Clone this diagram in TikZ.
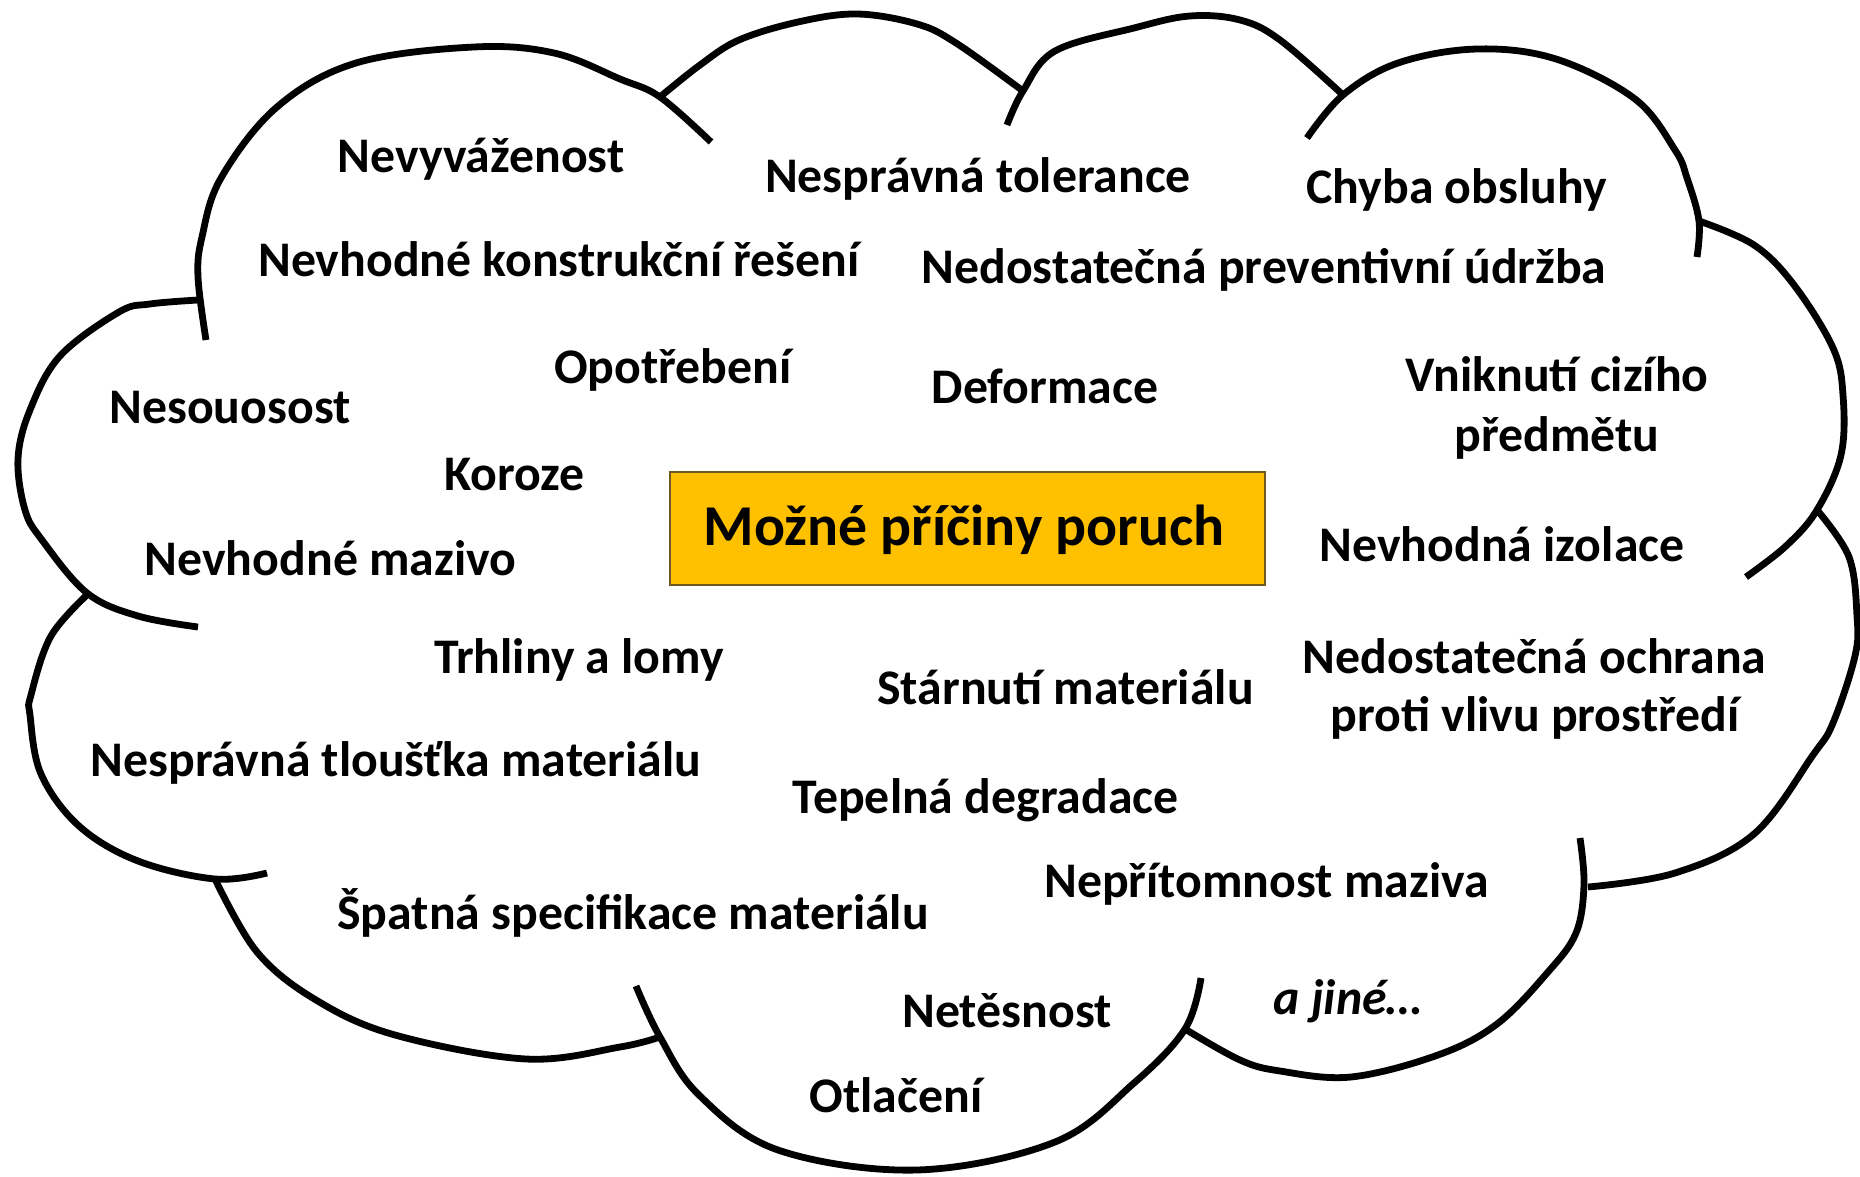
\documentclass[tikz,border=0pt]{standalone}
\usepackage{fontspec}
\setmainfont{Carlito}
\definecolor{boxfill}{RGB}{255,192,0}
\definecolor{boxline}{RGB}{110,90,30}
\begin{document}
\begin{tikzpicture}[x=0.5pt,y=-0.5pt,
  cloudline/.style={line width=3.4pt, line join=round},
  lbl/.style={anchor=base, inner sep=0pt, font=\fontsize{24.9}{29}\selectfont\bfseries},
  titlebox/.style={draw=boxline, line width=1pt, fill=boxfill, minimum width=297.5pt, minimum height=56.4pt, inner sep=0pt}]
\fill[white] (0,0) rectangle (1860,1177);
\useasboundingbox (0,0) rectangle (1860,1177);
% cloud lobes
\draw[cloudline] plot[smooth, tension=0.6] coordinates {(198,300) (150,304) (119,312) (60,356) (30,410) (18,459) (25,510) (42,540) (87,593) (138,616) (198,627)};
\draw[cloudline] plot[smooth, tension=0.6] coordinates {(206,340) (198,277) (202,237) (221,178) (277,107) (356,63) (474,47) (554,53) (620,79) (660,97) (711,142)};
\draw[cloudline] plot[smooth, tension=0.6] coordinates {(660,97) (700,65) (739,40) (798,22) (857,14) (917,24) (956,43) (1023,91)};
\draw[cloudline] plot[smooth, tension=0.6] coordinates {(1007,125) (1023,91) (1055,51) (1134,28) (1190,16) (1240,20) (1280,40) (1343,95)};
\draw[cloudline] plot[smooth, tension=0.6] coordinates {(1307,138) (1343,95) (1398,63) (1477,49) (1556,59) (1635,99) (1675,150) (1687,178) (1699,221) (1697,257)};
\draw[cloudline] plot[smooth, tension=0.6] coordinates {(1699,221) (1754,245) (1794,285) (1833,348) (1843,395) (1841,455) (1817,510) (1786,546) (1746,577)};
\draw[cloudline] plot[smooth, tension=0.6] coordinates {(1817,510) (1849,557) (1857,616) (1855,656) (1833,723) (1813,755) (1754,834) (1675,873) (1588,887)};
\draw[cloudline] plot[smooth, tension=0.6] coordinates {(1580,838) (1584,885) (1576,933) (1548,972) (1497,1024) (1438,1055) (1351,1077) (1280,1071) (1240,1060) (1185,1029)};
\draw[cloudline] plot[smooth, tension=0.6] coordinates {(1201,978) (1185,1029) (1134,1083) (1055,1142) (917,1170) (778,1150) (699,1095) (660,1037) (636,986)};
\draw[cloudline] plot[smooth, tension=0.6] coordinates {(215,879) (257,952) (316,1000) (395,1035) (526,1059) (620,1047) (660,1037)};
\draw[cloudline] plot[smooth, tension=0.6] coordinates {(89,593) (51,636) (31,695) (30,715) (41,774) (79,826) (138,861) (215,879) (267,873)};
% central box
\node[titlebox] (box) at (967,528.8) {};
\node[anchor=base, inner sep=0pt, font=\fontsize{28.9}{34}\selectfont\bfseries] (title) at (964,545.7) {Možné příčiny poruch};
% labels
\node[lbl] (t1) at (481,173) {Nevyváženost};
\node[lbl] (t2) at (559,277) {Nevhodné konstrukční řešení};
\node[lbl] (t3) at (230,423) {Nesouosost};
\node[lbl] (t4) at (673,383) {Opotřebení};
\node[lbl] (t5) at (514.6,490) {Koroze};
\node[lbl] (t6) at (330.5,575) {Nevhodné mazivo};
\node[lbl] (t7) at (978,192) {Nesprávná tolerance};
\node[lbl] (t8) at (1264,284) {Nedostatečná preventivní údržba};
\node[lbl] (t9) at (1456.5,203.6) {Chyba obsluhy};
\node[lbl] (t10) at (1045,403) {Deformace};
\node[lbl] (t11) at (1557,391.5) {Vniknutí cizího};
\node[lbl] (t12) at (1557,451) {předmětu};
\node[lbl] (t13) at (1502,561.5) {Nevhodná izolace};
\node[lbl] (t14) at (579,673.6) {Trhliny a lomy};
\node[lbl] (t15) at (1065.5,704) {Stárnutí materiálu};
\node[lbl] (t16) at (1534.5,673) {Nedostatečná ochrana};
\node[lbl] (t17) at (1535,731) {proti vlivu prostředí};
\node[lbl] (t18) at (396,776.5) {Nesprávná tloušťka materiálu};
\node[lbl] (t19) at (985.7,813) {Tepelná degradace};
\node[lbl] (t20) at (1266.5,897) {Nepřítomnost maziva};
\node[lbl] (t21) at (633,929) {Špatná specifikace materiálu};
\node[lbl] (t22) at (1007,1027.5) {Netěsnost};
\node[lbl] (t23) at (896,1112.6) {Otlačení};
\node[lbl, font=\fontsize{24.9}{29}\selectfont\bfseries\itshape] (t24) at (1348,1014) {a jiné…};
\end{tikzpicture}
\end{document}
